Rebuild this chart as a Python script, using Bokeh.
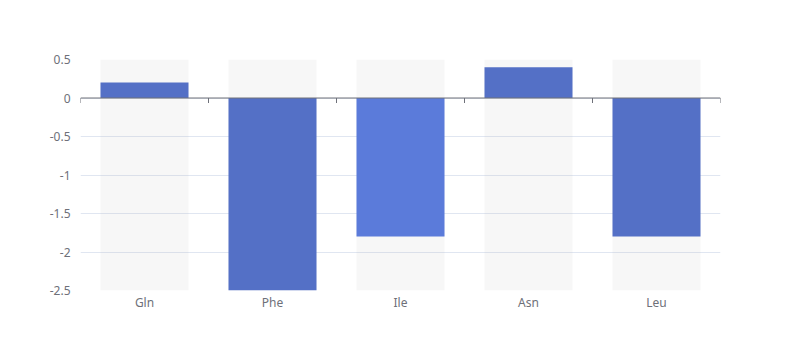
from bokeh.plotting import figure
from bokeh.models import Range1d, FixedTicker, Span, ColumnDataSource
from bokeh.embed import file_html
from bokeh.resources import INLINE

categories = ["Gln", "Phe", "Ile", "Asn", "Leu"]
values = [0.2, -2.5, -1.8, 0.4, -1.8]
bar_colors = ["#5470c6", "#5470c6", "#5b7bda", "#5470c6", "#5470c6"]
y_ticks = [0.5, 0, -0.5, -1, -1.5, -2, -2.5]
y_tick_labels = ["0.5", "0", "-0.5", "-1", "-1.5", "-2", "-2.5"]
y_min, y_max = -2.5, 0.5

W, H = 784, 344
BL, BR, BT, BB = 80, 64, 59, 54
p = figure(width=W, height=H, output_backend="svg", toolbar_location=None,
           x_range=Range1d(0, len(categories)), y_range=Range1d(y_min, y_max),
           min_border_left=BL, min_border_right=BR, min_border_top=BT, min_border_bottom=BB)
p.outline_line_color = None

centers = [i + 0.5 for i in range(len(categories))]
src = ColumnDataSource(dict(x=centers, top=values, color=bar_colors,
                            bg_top=[y_max] * len(categories), bg_bottom=[y_min] * len(categories)))

bw = 0.6875
p.vbar(x="x", top="bg_top", bottom="bg_bottom", width=bw, source=src,
       fill_color="#b4b4b4", fill_alpha=0.1, line_color=None)
p.vbar(x="x", top="top", bottom=0, width=bw, source=src,
       fill_color="color", line_color=None)

# zero axis line with ticks at category boundaries
p.add_layout(Span(location=0, dimension="width", line_color="#6e7079", line_width=1))
plot_h = H - BT - BB
tick_len = 5 * (y_max - y_min) / plot_h
bounds = list(range(len(categories) + 1))
p.segment(x0=bounds, x1=bounds, y0=[0] * len(bounds), y1=[-tick_len] * len(bounds),
          line_color="#6e7079", line_width=1)

font = "Noto Sans"
xa = p.xaxis[0]
xa.ticker = FixedTicker(ticks=centers)
xa.major_label_overrides = {c: lab for c, lab in zip(centers, categories)}
xa.axis_line_color = None
xa.major_tick_line_color = None
xa.minor_tick_line_color = None
xa.major_label_text_color = "#6e7079"
xa.major_label_text_font = font
xa.major_label_text_font_size = "12px"
xa.major_label_standoff = -3

ya = p.yaxis[0]
ya.ticker = FixedTicker(ticks=y_ticks)
ya.major_label_overrides = {t: lab for t, lab in zip(y_ticks, y_tick_labels)}
ya.axis_line_color = None
ya.major_tick_line_color = None
ya.minor_tick_line_color = None
ya.major_label_text_color = "#6e7079"
ya.major_label_text_font = font
ya.major_label_text_font_size = "12px"
ya.major_label_standoff = 4

p.xgrid.grid_line_color = None
p.ygrid.grid_line_color = "#e0e6f1"
p.ygrid.ticker = FixedTicker(ticks=y_ticks)

open("out.html", "w").write(file_html(p, INLINE))
